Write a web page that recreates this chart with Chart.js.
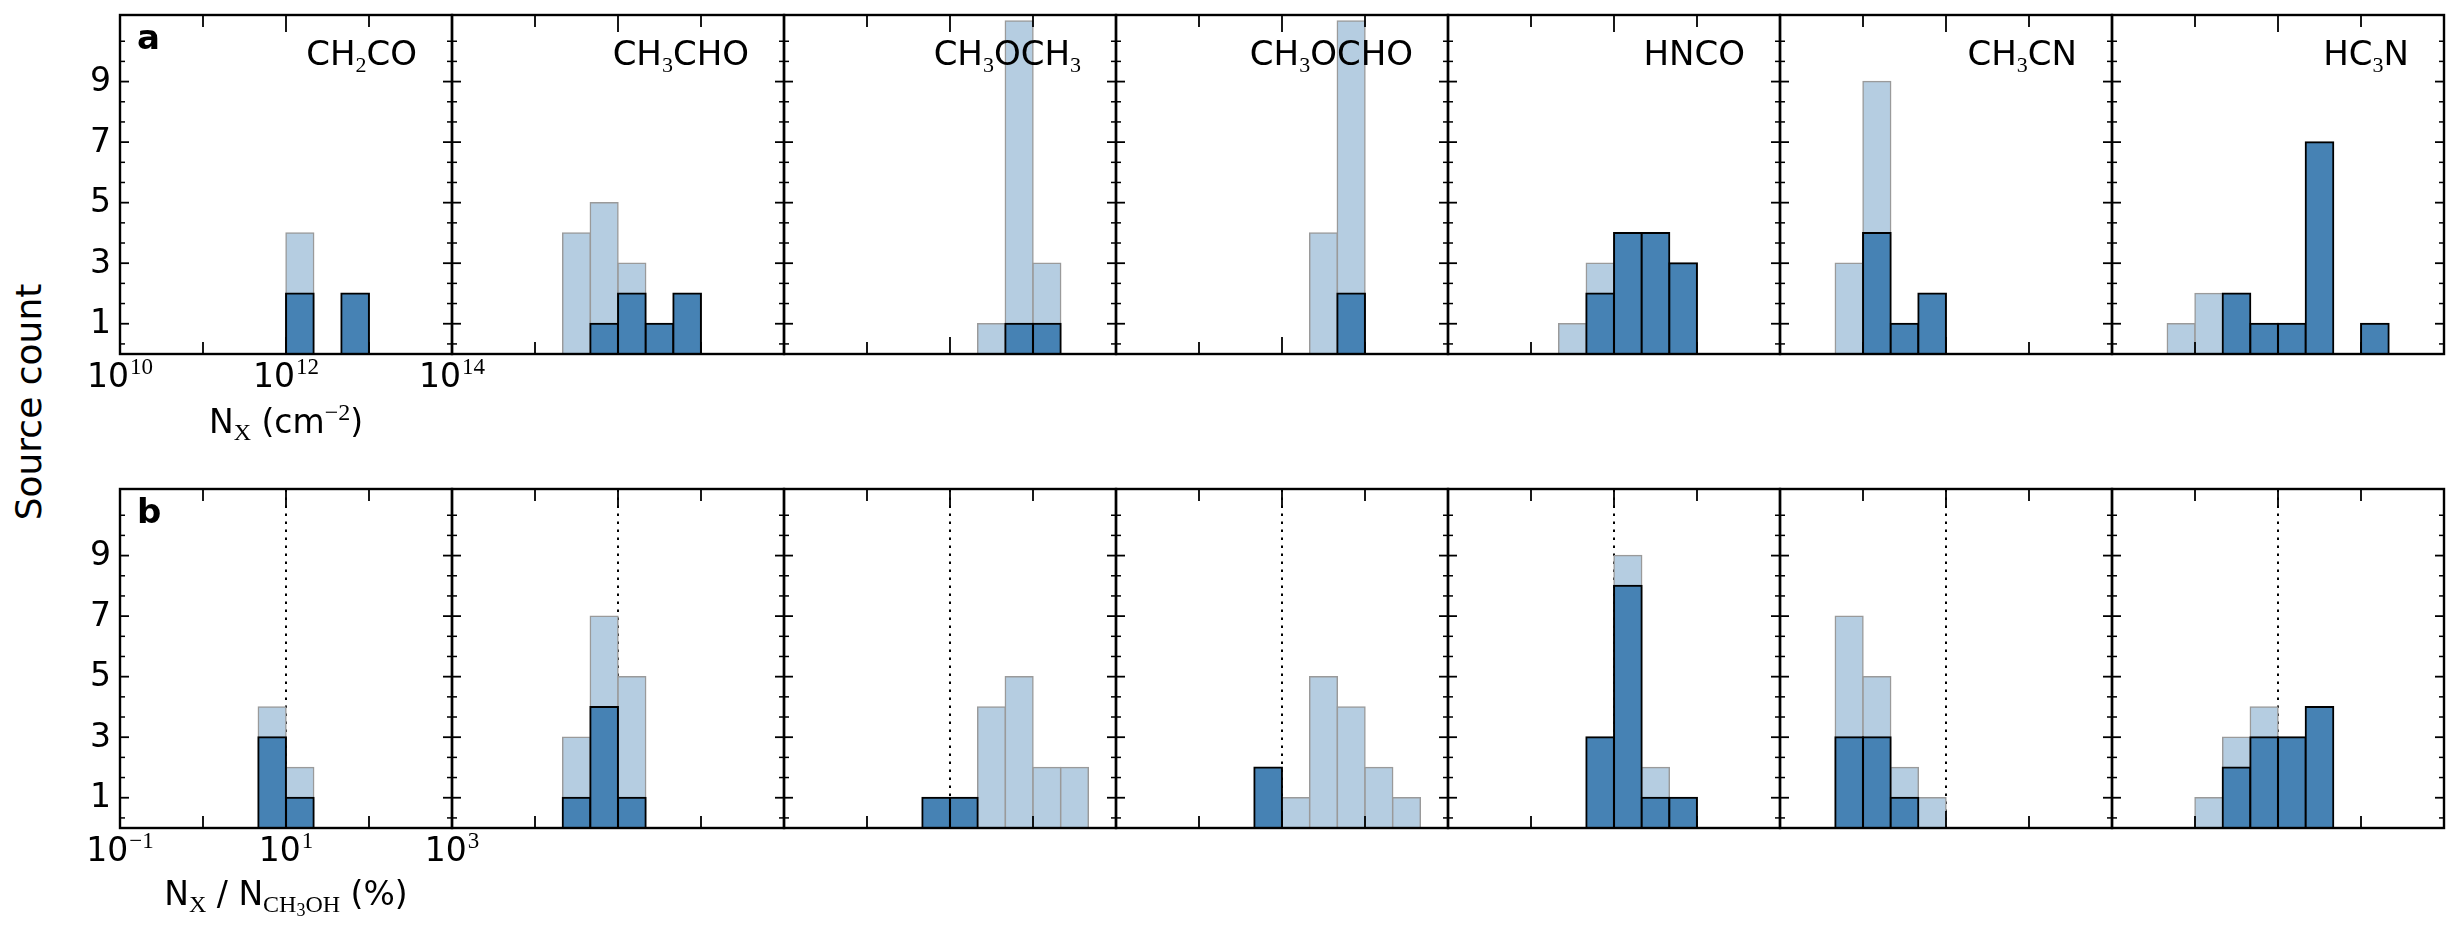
<!DOCTYPE html>
<html lang="en">
<head>
<meta charset="UTF-8">
<title>Source count histograms</title>
<script src="https://cdn.jsdelivr.net/npm/chart.js"></script>
<style>
    body {
        margin: 0;
        width: 2460px;
        height: 933px;
        background: #fff;
        position: relative;
        overflow: hidden;
        font-family: "DejaVu Sans", sans-serif;
    }

    #ylab {
        position: absolute;
        left: 29px;
        top: 402px;
        font-size: 36px;
        line-height: 1;
        white-space: nowrap;
        transform: translate(-50%, -50%) rotate(-90deg);
    }
</style>
</head>

<body>
<div id="ylab">Source count</div>

<script>
    const molecules = ['CH2CO', 'CH3CHO', 'CH3OCH3', 'CH3OCHO', 'HNCO', 'CH3CN', 'HC3N'];

    // bin centres in log10, bins are 1/3 dex wide
    const colDensityBins = [10.833, 11.167, 11.5, 11.833, 12.167, 12.5, 12.833, 13.167];  // N_X (cm^-2)
    const ratioBins = [-0.167, 0.167, 0.5, 0.833, 1.167, 1.5, 1.833, 2.167, 2.5];          // N_X / N_CH3OH (%)

    // light (back) and dark (front) histograms, one row per molecule
    const colDensityLight = [
        [0, 0, 0, 0, 4, 0, 0, 0],
        [0, 0, 4, 5, 3, 0, 0, 0],
        [0, 0, 0, 0, 0, 1, 11, 3],
        [0, 0, 0, 0, 0, 4, 11, 0],
        [0, 0, 1, 3, 0, 0, 0, 0],
        [3, 9, 0, 0, 0, 0, 0, 0],
        [1, 2, 0, 0, 0, 0, 0, 0]
    ];
    const colDensityDark = [
        [0, 0, 0, 0, 2, 0, 2, 0],
        [0, 0, 0, 1, 2, 1, 2, 0],
        [0, 0, 0, 0, 0, 0, 1, 1],
        [0, 0, 0, 0, 0, 0, 2, 0],
        [0, 0, 0, 2, 4, 4, 3, 0],
        [0, 4, 1, 2, 0, 0, 0, 0],
        [0, 0, 2, 1, 1, 7, 0, 1]
    ];
    const ratioLight = [
        [0, 0, 0, 4, 2, 0, 0, 0, 0],
        [0, 0, 3, 7, 5, 0, 0, 0, 0],
        [0, 0, 0, 0, 0, 4, 5, 2, 2],
        [0, 0, 0, 0, 1, 5, 4, 2, 1],
        [0, 0, 0, 0, 9, 2, 0, 0, 0],
        [7, 5, 2, 1, 0, 0, 0, 0, 0],
        [0, 1, 3, 4, 0, 0, 0, 0, 0]
    ];
    const ratioDark = [
        [0, 0, 0, 3, 1, 0, 0, 0, 0],
        [0, 0, 1, 4, 1, 0, 0, 0, 0],
        [0, 0, 0, 1, 1, 0, 0, 0, 0],
        [0, 0, 0, 2, 0, 0, 0, 0, 0],
        [0, 0, 0, 3, 8, 1, 1, 0, 0],
        [3, 3, 1, 0, 0, 0, 0, 0, 0],
        [0, 0, 2, 3, 3, 4, 0, 0, 0]
    ];
    // dotted line, log10 of ratio (%) -> 10 %
    const ratioRefLine = [1, 1, 1, 1, 1, 1, 1];

    const yMajorTicks = [1, 3, 5, 7, 9];
    const yMinorTicks = [0.333, 1.667, 2.333, 3.667, 4.333, 5.667, 6.333, 7.667, 8.333, 9.667, 10.333];
    const colDensityTicks = { major: [10, 12, 14], minor: [11, 13] };
    const ratioTicks = { major: [-1, 1, 3], minor: [0, 2] };
    const Y_MAX = 11.2;

    const SANS = '"DejaVu Sans"', SERIF = '"Liberation Serif"';
    const MAIN = `33px ${SANS}`, SUB = `24px ${SERIF}`, SUB2 = `18px ${SERIF}`;

    // axis titles as runs of [text, font, baseline shift]
    const colDensityTitle = [['N', MAIN, 0], ['X', SUB, 7], [' (cm', MAIN, 0], ['\u22122', SUB, -13], [')', MAIN, 0]];
    const ratioTitle = [['N', MAIN, 0], ['X', SUB, 7], [' / N', MAIN, 0], ['CH', SUB, 7], ['3', SUB2, 11], ['OH', SUB, 7], [' (%)', MAIN, 0]];

    const rows = [
        { letter: 'a', top: 15, range: [10, 14], bins: colDensityBins, light: colDensityLight, dark: colDensityDark, ticks: colDensityTicks, ref: null, title: colDensityTitle, titleGap: 79, names: true },
        { letter: 'b', top: 489, range: [-1, 3], bins: ratioBins, light: ratioLight, dark: ratioDark, ticks: ratioTicks, ref: ratioRefLine, title: ratioTitle, titleGap: 77, names: false }
    ];

    const PANEL_LEFT = 120, PANEL_W = 332, PANEL_H = 339;
    const PAD = { left: 70, right: 70, top: 12, bottom: 95 };

    function drawRuns(ctx, runs, cx, baseline) {
        let total = 0;
        runs.forEach(([t, f]) => { ctx.font = f; total += ctx.measureText(t).width; });
        let x = cx - total / 2;
        runs.forEach(([t, f, dy]) => {
            ctx.font = f;
            ctx.fillText(t, x, baseline + dy);
            x += ctx.measureText(t).width;
        });
    }

    function drawPower(ctx, v, cx, baseline) {
        const exp = String(v).replace('-', '\u2212');
        drawRuns(ctx, [['10', MAIN, 0], [' ', `3px ${SANS}`, 0], [exp, `23px ${SERIF}`, -13]], cx, baseline);
    }

    function drawFormula(ctx, name, right, baseline) {
        const parts = name.match(/\D+|\d+/g);
        const fontOf = p => /\d/.test(p) ? `22px ${SERIF}` : `34px ${SANS}`;
        let total = 0;
        parts.forEach(p => { ctx.font = fontOf(p); total += ctx.measureText(p).width; });
        let x = right - total;
        parts.forEach(p => {
            ctx.font = fontOf(p);
            ctx.fillText(p, x, /\d/.test(p) ? baseline + 7 : baseline);
            x += ctx.measureText(p).width;
        });
    }

    const decorPlugin = {
        id: 'decor',
        afterDatasetsDraw(chart) {
            const { ctx, chartArea: a, scales: { x, y } } = chart;
            const { r, i } = chart.options.plugins.decor;
            const row = rows[r];
            const line = (x0, y0, x1, y1) => { ctx.beginPath(); ctx.moveTo(x0, y0); ctx.lineTo(x1, y1); ctx.stroke(); };
            ctx.save();
            ctx.strokeStyle = '#000';
            ctx.fillStyle = '#000';

            // inward ticks on all four sides
            ctx.lineWidth = 1.8;
            row.ticks.major.forEach(v => { const px = x.getPixelForValue(v); line(px, a.top, px, a.top + 17); line(px, a.bottom, px, a.bottom - 17); });
            row.ticks.minor.forEach(v => { const px = x.getPixelForValue(v); line(px, a.top, px, a.top + 12); line(px, a.bottom, px, a.bottom - 12); });
            yMajorTicks.forEach(v => { const py = y.getPixelForValue(v); line(a.left, py, a.left + 9, py); line(a.right, py, a.right - 9, py); });
            ctx.lineWidth = 1.5;
            yMinorTicks.forEach(v => { const py = y.getPixelForValue(v); line(a.left, py, a.left + 5, py); line(a.right, py, a.right - 5, py); });

            // frame
            ctx.lineWidth = 2.4;
            ctx.strokeRect(a.left, a.top, a.right - a.left, a.bottom - a.top);

            ctx.textBaseline = 'alphabetic';
            ctx.textAlign = 'left';
            if (row.names) drawFormula(ctx, molecules[i], a.right - 35, a.top + 50);

            if (i === 0) {
                ctx.font = `bold 34px ${SANS}`;
                ctx.fillText(row.letter, a.left + 17, a.top + 34);
                row.ticks.major.forEach(v => drawPower(ctx, v, x.getPixelForValue(v), a.bottom + 33));
                drawRuns(ctx, row.title, (a.left + a.right) / 2, a.bottom + row.titleGap);
                ctx.font = MAIN;
                ctx.textAlign = 'right';
                ctx.textBaseline = 'middle';
                yMajorTicks.forEach(v => ctx.fillText(String(v), a.left - 9, y.getPixelForValue(v) + 1));
            }
            ctx.restore();
        }
    };

    const toPoints = (bins, counts) => bins.map((b, k) => ({ x: b, y: counts[k] || null }));

    rows.forEach((row, r) => molecules.forEach((name, i) => {
        const w = PANEL_W + PAD.left + PAD.right;
        const h = PANEL_H + PAD.top + PAD.bottom;
        const canvas = document.createElement('canvas');
        canvas.width = w;
        canvas.height = h;
        canvas.style.cssText = `position:absolute;left:${PANEL_LEFT + i * PANEL_W - PAD.left}px;top:${row.top - PAD.top}px;width:${w}px;height:${h}px`;
        document.body.appendChild(canvas);

        const barCommon = { grouped: false, barPercentage: 1, categoryPercentage: 1, borderSkipped: 'start' };
        const datasets = [
            {
                ...barCommon,
                data: toPoints(row.bins, row.dark[i]),
                backgroundColor: '#4682b4',
                borderColor: '#000',
                borderWidth: 2,
                inflateAmount: 1,
                order: 1
            },
            {
                ...barCommon,
                data: toPoints(row.bins, row.light[i]),
                backgroundColor: '#b5cde1',
                borderColor: '#9a9a9a',
                borderWidth: 1.5,
                inflateAmount: 0.75,
                order: 2
            }
        ];
        if (row.ref) {
            datasets.push({
                type: 'line',
                data: [{ x: row.ref[i], y: 0 }, { x: row.ref[i], y: Y_MAX }],
                borderColor: '#000',
                borderWidth: 2,
                borderDash: [2.5, 5.5],
                pointRadius: 0,
                fill: false,
                order: 3
            });
        }

        new Chart(canvas, {
            type: 'bar',
            data: { datasets },
            options: {
                responsive: false,
                animation: false,
                events: [],
                layout: { padding: PAD },
                plugins: {
                    legend: { display: false },
                    tooltip: { enabled: false },
                    decor: { r, i }
                },
                scales: {
                    x: { type: 'linear', min: row.range[0], max: row.range[1], offset: false, display: false },
                    y: { type: 'linear', min: 0, max: Y_MAX, display: false }
                }
            },
            plugins: [decorPlugin]
        });
    }));
</script>
</body>
</html>
